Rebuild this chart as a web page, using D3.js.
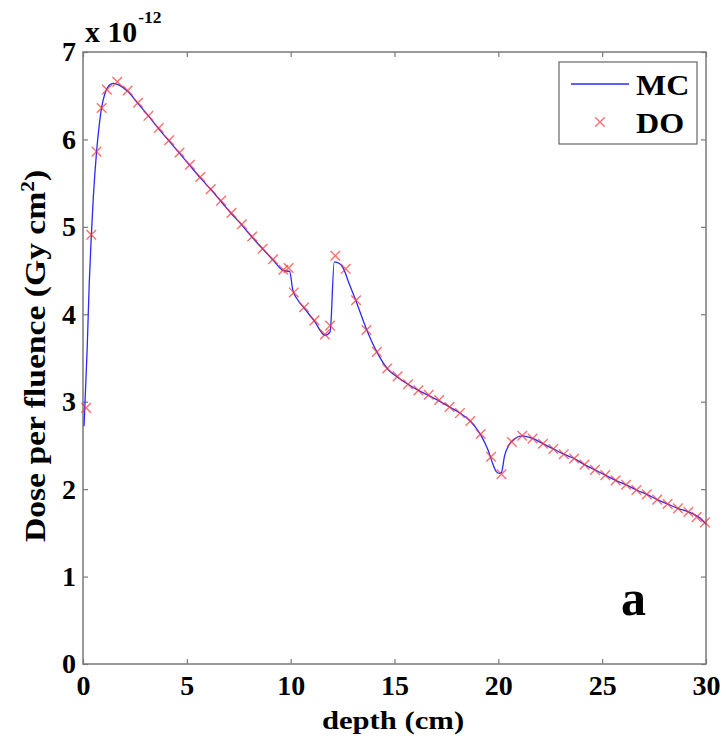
<!DOCTYPE html>
<html><head><meta charset="utf-8">
<script src="https://cdn.jsdelivr.net/npm/d3@7/dist/d3.min.js"></script>
<style>
html,body{margin:0;padding:0;background:#fff;}
svg text{font-family:"Liberation Serif","Times New Roman",serif;font-weight:bold;fill:#000;}
</style></head>
<body><svg id="chart" width="726" height="740"></svg>
<script>
// ---- data (dose per fluence, units of 1e-12 Gy cm^2) ----
const xTicks = [0, 5, 10, 15, 20, 25, 30];
const yTicks = [0, 1, 2, 3, 4, 5, 6, 7];
const seriesNames = ["MC", "DO"];

// MC: Monte Carlo curve (depth cm, dose)
const mcDepth = [0.05,0.2,0.3,0.4,0.5,0.65,0.8,0.9,1.05,1.2,1.45,1.65,2.15,2.65,3.15,3.65,4.15,4.65,5.15,5.65,6.15,6.65,7.15,7.65,8.15,8.65,9.15,9.65,9.95,10.1,10.3,10.65,11.15,11.65,11.9,12.1,12.35,12.55,12.8,13.15,13.65,14.15,14.65,15.15,15.65,16.15,16.65,17.15,17.65,18.15,18.65,19.15,19.5,19.75,19.9,20.05,20.15,20.3,20.5,20.75,21.15,21.65,22.15,22.65,23.15,23.65,24.15,24.65,25.15,25.65,26.15,26.65,27.15,27.65,28.15,28.65,29.15,29.65,30.0];
const mcDose  = [2.72,3.6,4.35,4.9,5.35,5.85,6.2,6.37,6.52,6.6,6.64,6.63,6.55,6.41,6.27,6.12,5.98,5.84,5.70,5.56,5.43,5.29,5.15,5.02,4.88,4.75,4.62,4.50,4.49,4.28,4.18,4.07,3.92,3.76,3.80,4.60,4.58,4.52,4.36,4.15,3.83,3.57,3.38,3.28,3.20,3.13,3.07,3.01,2.94,2.87,2.78,2.62,2.45,2.28,2.20,2.18,2.19,2.38,2.50,2.57,2.61,2.58,2.52,2.46,2.40,2.35,2.28,2.22,2.16,2.10,2.05,1.99,1.94,1.88,1.83,1.78,1.74,1.68,1.60];

// DO: crosses (depth cm, dose)
const doDepth = [0.15,0.4,0.65,0.9,1.15,1.65,2.15,2.65,3.15,3.65,4.15,4.65,5.15,5.65,6.15,6.65,7.15,7.65,8.15,8.65,9.15,9.65,9.9,10.15,10.65,11.15,11.65,11.9,12.15,12.65,13.15,13.65,14.15,14.65,15.15,15.65,16.15,16.65,17.15,17.65,18.15,18.65,19.15,19.65,20.15,20.65,21.15,21.65,22.15,22.65,23.15,23.65,24.15,24.65,25.15,25.65,26.15,26.65,27.15,27.65,28.15,28.65,29.15,29.55,29.95];
const doDose  = [2.93,4.91,5.86,6.36,6.57,6.66,6.56,6.42,6.27,6.13,5.99,5.85,5.71,5.57,5.43,5.30,5.16,5.03,4.89,4.75,4.63,4.51,4.53,4.25,4.08,3.93,3.77,3.87,4.67,4.52,4.16,3.82,3.57,3.38,3.29,3.20,3.13,3.08,3.02,2.94,2.87,2.78,2.63,2.37,2.17,2.54,2.61,2.58,2.52,2.46,2.40,2.35,2.28,2.22,2.16,2.10,2.05,1.99,1.94,1.88,1.83,1.78,1.74,1.68,1.62];

// ---- layout ----
const L = 83, T = 52, R = 706, B = 664;
const svg = d3.select("#chart");
const x = d3.scaleLinear().domain([0, 30]).range([L, R]);
const y = d3.scaleLinear().domain([0, 7]).range([B, T]);
const axisColor = "#7a7a7a";
const tickLen = 5;

function styleAxis(g, showLabels) {
  g.select(".domain").remove();
  g.selectAll(".tick line").attr("stroke", axisColor).attr("stroke-width", 1.2);
  if (!showLabels) g.selectAll(".tick text").remove();
  else g.selectAll(".tick text").attr("font-size", 28).attr("fill", "#000")
        .attr("font-family", '"Liberation Serif", serif').attr("font-weight", "bold");
}

// bottom
svg.append("g").attr("transform", `translate(0,${B})`)
  .call(d3.axisBottom(x).tickValues(xTicks).tickFormat(d3.format("d")).tickSizeInner(-tickLen).tickSizeOuter(0).tickPadding(11))
  .call(g => styleAxis(g, true));
// top
svg.append("g").attr("transform", `translate(0,${T})`)
  .call(d3.axisTop(x).tickValues(xTicks).tickSizeInner(-tickLen).tickSizeOuter(0))
  .call(g => styleAxis(g, false));
// left
svg.append("g").attr("transform", `translate(${L},0)`)
  .call(d3.axisLeft(y).tickValues(yTicks).tickFormat(d3.format("d")).tickSizeInner(-tickLen).tickSizeOuter(0).tickPadding(7))
  .call(g => styleAxis(g, true));
// right
svg.append("g").attr("transform", `translate(${R},0)`)
  .call(d3.axisRight(y).tickValues(yTicks).tickSizeInner(-tickLen).tickSizeOuter(0))
  .call(g => styleAxis(g, false));

// box
svg.append("rect").attr("x", L).attr("y", T).attr("width", R - L).attr("height", B - T)
  .attr("fill", "none").attr("stroke", axisColor).attr("stroke-width", 1.5);

// MC line
const mc = mcDepth.map((d, i) => [d, mcDose[i]]);
svg.append("path").datum(mc)
  .attr("d", d3.line().x(d => x(d[0])).y(d => y(d[1])).curve(d3.curveMonotoneX))
  .attr("fill", "none").attr("stroke", "#2a2aff").attr("stroke-width", 1.3);

// DO crosses
const cs = 4.8;
const doPts = doDepth.map((d, i) => [d, doDose[i]]);
svg.append("g").selectAll("path").data(doPts).join("path")
  .attr("d", d => {
    const cx = x(d[0]), cy = y(d[1]);
    return `M${cx-cs},${cy-cs}L${cx+cs},${cy+cs}M${cx-cs},${cy+cs}L${cx+cs},${cy-cs}`;
  })
  .attr("stroke", "#ff3030").attr("stroke-opacity", 0.7).attr("stroke-width", 1.4).attr("fill", "none");

// helper for (wide) text
function label(tx, ty, size, sx, anchor, rot) {
  return svg.append("text")
    .attr("transform", `translate(${tx},${ty})` + (rot ? ` rotate(${rot})` : "") + ` scale(${sx},1)`)
    .attr("text-anchor", anchor).attr("font-size", size);
}

// legend
const lg = svg.append("g");
lg.append("rect").attr("x", 559).attr("y", 62).attr("width", 138).attr("height", 82)
  .attr("fill", "#fff").attr("stroke", "#666").attr("stroke-width", 1.2);
lg.append("line").attr("x1", 571).attr("x2", 629).attr("y1", 84).attr("y2", 84)
  .attr("stroke", "#2a2aff").attr("stroke-width", 1.3);
lg.append("path").attr("d", `M${600-cs},${122-cs}L${600+cs},${122+cs}M${600-cs},${122+cs}L${600+cs},${122-cs}`)
  .attr("stroke", "#ff3030").attr("stroke-opacity", 0.7).attr("stroke-width", 1.4);
label(636, 95, 30, 1.07, "start").text(seriesNames[0]);
label(636, 133, 30, 1.07, "start").text(seriesNames[1]);

// axis labels
label(393, 729, 26, 1.18, "middle").text("depth (cm)");
const yl = label(45, 356, 28.5, 1.18, "middle", -90);
yl.append("tspan").text("Dose per fluence (Gy cm");
yl.append("tspan").attr("dy", -11).attr("font-size", 18).text("2");
yl.append("tspan").attr("dy", 11).text(")");

// exponent
const ex = label(85, 42, 29, 1.03, "start");
ex.append("tspan").text("x 10");
ex.append("tspan").attr("dy", -19).attr("font-size", 17).attr("dx", 1).text("-12");

// panel label
label(621, 615, 50, 1.0, "start").text("a");
</script></body></html>
